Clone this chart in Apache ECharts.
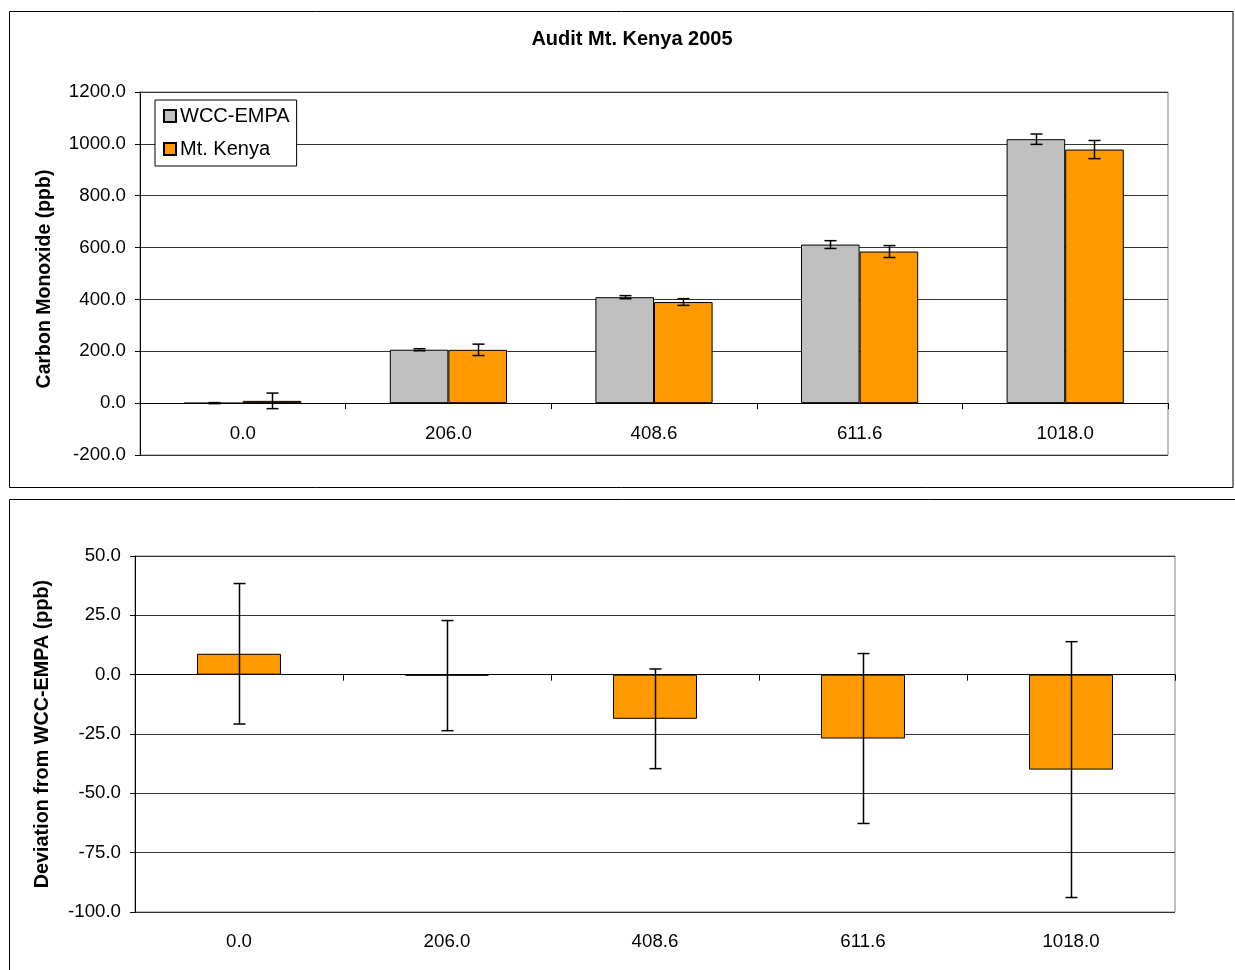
<!DOCTYPE html>
<html>
<head>
<meta charset="utf-8">
<title>Audit Mt. Kenya 2005</title>
<script src="https://cdn.jsdelivr.net/npm/echarts@6/dist/echarts.min.js"></script>
<style>
  html, body { margin: 0; padding: 0; background: #fff; }
  #chart { width: 1235px; height: 970px; }
</style>
</head>
<body>
<div id="chart"></div>
<script>
// Nominal standard concentrations (ppb) used as categories
const categories = ['0.0', '206.0', '408.6', '611.6', '1018.0'];

// Carbon monoxide measured by the travelling standard and the station
const wccEmpa = [0.0, 206.0, 408.6, 611.6, 1018.0];
const wccEmpaErr = [2, 4, 6, 15, 20];
const mtKenya = [8.8, 205.6, 390.0, 584.7, 978.0];
const mtKenyaErr = [30, 22, 13, 23, 35];

// Station deviation from the reference (ppb)
const deviation = [8.8, -0.4, -18.6, -26.9, -40.0];
const deviationErr = [29.6, 23.2, 21.0, 35.8, 53.9];

// Value-axis tick labels
const coTicks = [-200, 0, 200, 400, 600, 800, 1000, 1200];
const devTicks = [-100, -75, -50, -25, 0, 25, 50];

const FONT = '"Liberation Sans", Arial, sans-serif';
const GRAY = '#C0C0C0';
const ORANGE = '#FF9900';

// I-shaped error bar; offset shifts it to one bar of a grouped pair
function errorBar(widthFrac, offset, capHalf) {
  return function (params, api) {
    const i = api.value(0), v = api.value(1), e = api.value(2);
    const c = api.coord([i, v]);
    const hi = api.coord([i, v + e]);
    const lo = api.coord([i, v - e]);
    const bw = api.size([1, 0])[0] * widthFrac;
    const x = Math.round(c[0] + offset * bw / 2) + 0.5;
    const style = { stroke: '#000', lineWidth: 1.5, fill: null };
    return {
      type: 'group',
      children: [
        { type: 'line', shape: { x1: x, y1: hi[1], x2: x, y2: lo[1] }, style },
        { type: 'line', shape: { x1: x - capHalf, y1: hi[1], x2: x + capHalf, y2: hi[1] }, style },
        { type: 'line', shape: { x1: x - capHalf, y1: lo[1], x2: x + capHalf, y2: lo[1] }, style }
      ]
    };
  };
}

const withErr = (vals, errs) => vals.map((v, i) => [i, v, errs[i]]);
const fmt1 = v => Number(v).toFixed(1);

const axisText = { color: '#000', fontFamily: FONT, fontSize: 18.7 };

const chart = echarts.init(document.getElementById('chart'), null, { renderer: 'canvas' });

chart.setOption({
  animation: false,
  backgroundColor: '#fff',
  title: {
    text: 'Audit Mt. Kenya 2005',
    left: 627,
    textAlign: 'center',
    top: 24,
    textStyle: { fontFamily: FONT, fontSize: 20, fontWeight: 'bold', color: '#000' }
  },
  legend: {
    data: ['WCC-EMPA', 'Mt. Kenya'],
    orient: 'vertical',
    left: 155,
    top: 100,
    padding: [6, 7, 7, 8],
    itemGap: 13,
    itemWidth: 12,
    itemHeight: 12,
    icon: 'rect',
    borderColor: '#000',
    borderWidth: 1,
    backgroundColor: '#fff',
    textStyle: { fontFamily: FONT, fontSize: 20, color: '#000', padding: [0, 0, 0, -1] }
  },
  graphic: [
    { type: 'rect', silent: true, z: -10,
      shape: { x: 9.5, y: 11.5, width: 1223.5, height: 476 },
      style: { fill: 'none', stroke: '#000', lineWidth: 1 } },
    { type: 'rect', silent: true, z: -10,
      shape: { x: 9.5, y: 499.5, width: 1240, height: 500 },
      style: { fill: 'none', stroke: '#000', lineWidth: 1 } },
    { type: 'text', x: 45, y: 279, rotation: Math.PI / 2,
      style: { text: 'Carbon Monoxide (ppb)', align: 'center', verticalAlign: 'middle',
               font: 'bold 19.5px ' + FONT, fill: '#000' } },
    { type: 'text', x: 43, y: 734, rotation: Math.PI / 2,
      style: { text: 'Deviation from WCC-EMPA (ppb)', align: 'center', verticalAlign: 'middle',
               font: 'bold 19.8px ' + FONT, fill: '#000' } }
  ],
  grid: [
    { left: 140, top: 92, right: 67, height: 363, show: true,
      borderColor: '#808080', borderWidth: 1, backgroundColor: '#fff' },
    { left: 135, top: 556, right: 60, height: 356, show: true,
      borderColor: '#808080', borderWidth: 1, backgroundColor: '#fff' }
  ],
  xAxis: [
    { type: 'category', gridIndex: 0, data: categories, position: 'bottom',
      axisLine: { onZero: true, lineStyle: { color: '#000', width: 1 } },
      axisTick: { show: true, length: 6, lineStyle: { color: '#000' } },
      axisLabel: { ...axisText, margin: -31 } },
    { type: 'category', gridIndex: 1, data: categories, position: 'bottom',
      axisLine: { show: false, onZero: false },
      axisTick: { show: false },
      axisLabel: { ...axisText, margin: 20 } },
    { type: 'category', gridIndex: 1, data: categories, position: 'bottom',
      axisLine: { onZero: true, lineStyle: { color: '#000', width: 1 } },
      axisTick: { show: true, length: 6, lineStyle: { color: '#000' } },
      axisLabel: { show: false } }
  ],
  yAxis: [
    { type: 'value', gridIndex: 0,
      min: coTicks[0], max: coTicks[coTicks.length - 1], interval: coTicks[1] - coTicks[0],
      axisLine: { show: true, lineStyle: { color: '#000' } },
      axisTick: { show: true, length: 5, lineStyle: { color: '#000' } },
      axisLabel: { ...axisText, margin: 14, formatter: fmt1 },
      splitLine: { show: true, lineStyle: { color: '#333', width: 1 } } },
    { type: 'value', gridIndex: 1,
      min: devTicks[0], max: devTicks[devTicks.length - 1], interval: devTicks[1] - devTicks[0],
      axisLine: { show: true, lineStyle: { color: '#000' } },
      axisTick: { show: true, length: 5, lineStyle: { color: '#000' } },
      axisLabel: { ...axisText, margin: 14, formatter: fmt1 },
      splitLine: { show: true, lineStyle: { color: '#333', width: 1 } } }
  ],
  series: [
    { name: 'WCC-EMPA', type: 'bar', xAxisIndex: 0, yAxisIndex: 0,
      data: wccEmpa, barWidth: '28.5%', barGap: '0%',
      itemStyle: { color: GRAY, borderColor: '#000', borderWidth: 1 } },
    { name: 'Mt. Kenya', type: 'bar', xAxisIndex: 0, yAxisIndex: 0,
      data: mtKenya, barWidth: '28.5%', barGap: '0%',
      itemStyle: { color: ORANGE, borderColor: '#000', borderWidth: 1 } },
    { name: 'WCC-EMPA error', type: 'custom', xAxisIndex: 0, yAxisIndex: 0, z: 5,
      renderItem: errorBar(0.285, -1, 6), encode: { x: 0, y: 1 },
      data: withErr(wccEmpa, wccEmpaErr) },
    { name: 'Mt. Kenya error', type: 'custom', xAxisIndex: 0, yAxisIndex: 0, z: 5,
      renderItem: errorBar(0.285, 1, 6), encode: { x: 0, y: 1 },
      data: withErr(mtKenya, mtKenyaErr) },
    { name: 'Deviation', type: 'bar', xAxisIndex: 1, yAxisIndex: 1,
      data: deviation, barWidth: '40.4%',
      itemStyle: { color: ORANGE, borderColor: '#000', borderWidth: 1 } },
    { name: 'Deviation error', type: 'custom', xAxisIndex: 1, yAxisIndex: 1, z: 5,
      renderItem: errorBar(0.404, 0, 6), encode: { x: 0, y: 1 },
      data: withErr(deviation, deviationErr) }
  ]
});
</script>
</body>
</html>
